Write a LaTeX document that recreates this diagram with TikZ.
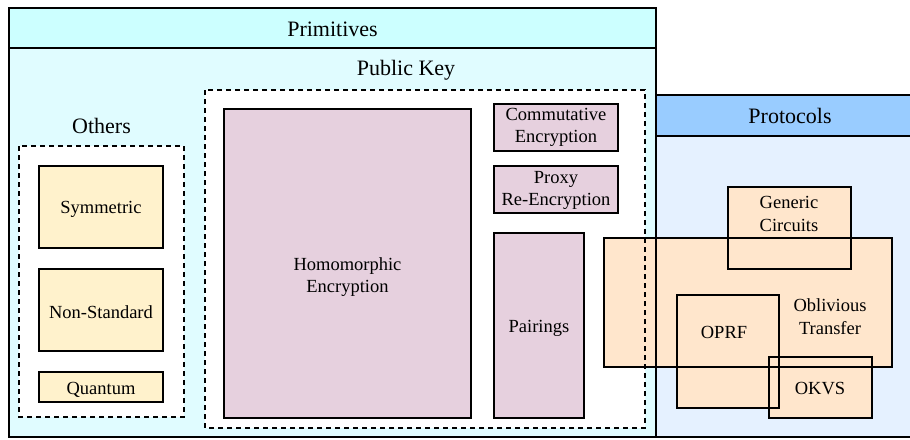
\documentclass[tikz,border=0pt]{standalone}
\usepackage{fontspec}
\setmainfont{Liberation Serif}
\definecolor{primhead}{HTML}{CCFFFF}
\definecolor{primbody}{HTML}{E0FCFF}
\definecolor{prothead}{HTML}{99CCFF}
\definecolor{protbody}{HTML}{E5F1FF}
\definecolor{symfill}{HTML}{FFF2CC}
\definecolor{pkfill}{HTML}{E6D0DE}
\definecolor{protfill}{HTML}{FFE6CC}
\begin{document}
\begin{tikzpicture}[x=1pt,y=-1pt,
  every node/.style={inner sep=0pt, outer sep=0pt, rectangle},
  frame/.style={draw=black, line width=1.6pt},
  dashframe/.style={draw=black, line width=1.6pt, dash pattern=on 5pt off 4pt},
  bigtext/.style={font=\fontsize{22}{26}\selectfont, align=center},
  smalltext/.style={font=\fontsize{18.5}{22.5}\selectfont, align=center},
  oneline/.style={smalltext, yshift=-2.5pt},
  twoline/.style={smalltext, yshift=-1pt}]
\useasboundingbox (0,0) rectangle (910,439);

% container fills
\node[fill=primbody, minimum width=647pt, minimum height=389pt] (primb) at (332.5,242.5) {};
\node[fill=primhead, minimum width=647pt, minimum height=40pt] (primh) at (332.5,28) {};
\node[fill=protbody, minimum width=268pt, minimum height=301pt] (protb) at (790,286.5) {};
\node[fill=prothead, minimum width=268pt, minimum height=41pt] (proth) at (790,115.5) {};
\node[fill=white, minimum width=440pt, minimum height=338pt] (pk) at (425,259) {};
\node[fill=white, minimum width=165pt, minimum height=271pt] (oth) at (101.5,281.5) {};

% headings
\node[bigtext, yshift=-1pt] (primlabel) at (primh) {Primitives};
\node[bigtext] (protlabel) at (proth) {Protocols};
\node[bigtext] (pklabel) at (406,70.5) {Public Key};
\node[bigtext] (othlabel) at (101.5,126) {Others};

% symmetric-side primitives
\node[frame, fill=symfill, minimum width=124pt, minimum height=82pt] (sym) at (101,207) {};
\node[frame, fill=symfill, minimum width=124pt, minimum height=82pt] (nonstd) at (101,310) {};
\node[frame, fill=symfill, minimum width=124pt, minimum height=30pt] (quant) at (101,387) {};
\node[oneline] (symlabel) at (sym) {Symmetric};
\node[oneline] (nonstdlabel) at (nonstd) {Non-Standard};
\node[oneline] (quantlabel) at (quant) {Quantum};

% public-key primitives
\node[frame, fill=pkfill, minimum width=247pt, minimum height=309pt] (he) at (347.5,263.5) {};
\node[frame, fill=pkfill, minimum width=124pt, minimum height=47pt] (comm) at (556,127.5) {};
\node[frame, fill=pkfill, minimum width=124pt, minimum height=47pt] (proxy) at (556,189.5) {};
\node[frame, fill=pkfill, minimum width=90pt, minimum height=185pt] (pair) at (539,325.5) {};
\node[smalltext] (helabel) at (347.5,277) {Homomorphic\\Encryption};
\node[smalltext] (commlabel) at (comm) {Commutative\\Encryption};
\node[twoline] (proxylabel) at (proxy) {Proxy\\Re-Encryption};
\node[oneline] (pairlabel) at (pair) {Pairings};

% protocol fills
\node[fill=protfill, minimum width=288pt, minimum height=129pt] (ot) at (748,302.5) {};
\node[fill=protfill, minimum width=123pt, minimum height=82pt] (gc) at (789.5,228) {};
\node[fill=protfill, minimum width=102pt, minimum height=113pt] (oprf) at (728,351.5) {};
\node[fill=protfill, minimum width=103pt, minimum height=61pt] (okvs) at (820.5,387.5) {};

% container outlines
\draw[frame] (primb.north west) rectangle (primb.south east);
\draw[frame] (primh.north west) rectangle (primh.south east);
\draw[frame] (protb.north west) rectangle (protb.south east);
\draw[frame] (proth.north west) rectangle (proth.south east);
\draw[dashframe] (pk.north west) rectangle (pk.south east);
\draw[dashframe] (oth.north west) rectangle (oth.south east);

% protocol outlines and labels
\draw[frame] (ot.north west) rectangle (ot.south east);
\draw[frame] (gc.north west) rectangle (gc.south east);
\draw[frame] (oprf.north west) rectangle (oprf.south east);
\draw[frame] (okvs.north west) rectangle (okvs.south east);
\node[smalltext] (gclabel) at (789,214) {Generic\\Circuits};
\node[smalltext] (otlabel) at (830,316.5) {Oblivious\\Transfer};
\node[smalltext] (oprflabel) at (724,332) {OPRF};
\node[smalltext] (okvslabel) at (820,389) {OKVS};
\end{tikzpicture}
\end{document}
